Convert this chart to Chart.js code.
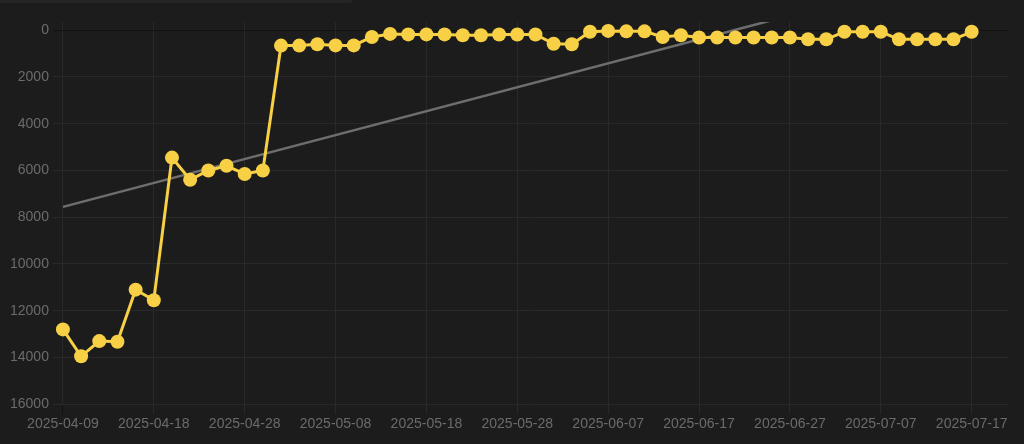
<!DOCTYPE html>
<html>
<head>
<meta charset="utf-8">
<script src="https://cdn.jsdelivr.net/npm/chart.js@4.4.1/dist/chart.umd.min.js"></script>
<style>
  html, body { margin: 0; padding: 0; background: #1c1c1c; }
  #wrap { position: relative; width: 1024px; height: 444px; overflow: hidden; }
  #topbar { position: absolute; left: 0; top: 0; width: 353px; height: 3px; background: #252525; border-bottom-right-radius: 3px; }
  canvas { display: block; }
</style>
</head>
<body>
<div id="wrap">
  <div id="topbar"></div>
  <canvas id="chart" width="1024" height="444"></canvas>
</div>
<script>
// Categories (two trailing dates have no data, they just pad the axis)
const dates = [
    '2025-04-09', '2025-04-10', '2025-04-12', '2025-04-14', '2025-04-16',
    '2025-04-18', '2025-04-20', '2025-04-22', '2025-04-24', '2025-04-26',
    '2025-04-28', '2025-04-30', '2025-05-02', '2025-05-04', '2025-05-06',
    '2025-05-08', '2025-05-10', '2025-05-12', '2025-05-14', '2025-05-16',
    '2025-05-18', '2025-05-20', '2025-05-22', '2025-05-24', '2025-05-26',
    '2025-05-28', '2025-05-30', '2025-06-01', '2025-06-03', '2025-06-05',
    '2025-06-07', '2025-06-09', '2025-06-11', '2025-06-13', '2025-06-15',
    '2025-06-17', '2025-06-19', '2025-06-21', '2025-06-23', '2025-06-25',
    '2025-06-27', '2025-06-29', '2025-07-01', '2025-07-03', '2025-07-05',
    '2025-07-07', '2025-07-09', '2025-07-11', '2025-07-13', '2025-07-15',
    '2025-07-17', '2025-07-19', '2025-07-21'
];

// Main series
const values = [
    12800, 13950, 13300, 13330, 11100,
    11550, 5450, 6400, 6000, 5800,
    6150, 6000, 660, 660, 600,
    650, 650, 290, 160, 180,
    180, 180, 215, 215, 185,
    185, 185, 580, 600, 70,
    30, 50, 50, 290, 215,
    315, 315, 315, 315, 315,
    315, 390, 390, 70, 70,
    70, 390, 390, 390, 390,
    70, null, null
];

// Trend line end points
const trendDates = ['2025-04-09', '2025-07-17'];
const trendValues = [7560, -2675];

// Y axis
const yMin = -350;
const yMax = 16000;
const yTicks = [0, 2000, 4000, 6000, 8000, 10000, 12000, 14000, 16000];

const tickColor = '#6b6b6b';
const gridColor = '#292929';

const trendPoints = trendDates.map((d, i) => ({ x: d, y: trendValues[i] }));

new Chart(document.getElementById('chart'), {
    type: 'line',
    data: {
        labels: dates,
        datasets: [
            {
                label: 'value',
                data: values,
                borderColor: '#f7d046',
                backgroundColor: '#f7d046',
                borderWidth: 3,
                pointRadius: 7,
                pointBorderWidth: 0,
                pointBackgroundColor: '#f7d046',
                tension: 0,
                order: 0
            },
            {
                label: 'trend',
                data: trendPoints,
                borderColor: '#6e6e6e',
                borderWidth: 2.5,
                pointRadius: 0,
                tension: 0,
                clip: 0,
                order: 1
            }
        ]
    },
    options: {
        responsive: false,
        animation: false,
        layout: {
            padding: { top: 22, right: 16, bottom: 9, left: 6 }
        },
        plugins: {
            legend: { display: false },
            tooltip: { enabled: false }
        },
        scales: {
            x: {
                type: 'category',
                offset: false,
                border: { display: false },
                grid: {
                    color: gridColor,
                    tickLength: 10,
                    tickColor: ctx => ctx.index === 0 ? '#121212' : gridColor
                },
                ticks: {
                    autoSkip: false,
                    maxRotation: 0,
                    padding: 2,
                    color: tickColor,
                    font: { family: 'Liberation Sans', size: 14 },
                    callback: function(val, index) {
                        return index % 5 === 0 && index <= 50 ? this.getLabelForValue(val) : null;
                    }
                }
            },
            y: {
                reverse: true,
                min: yMin,
                max: yMax,
                border: { display: false },
                afterBuildTicks: axis => {
                    axis.ticks = yTicks.map(v => ({ value: v }));
                },
                grid: {
                    color: ctx => ctx.tick && ctx.tick.value === 0 ? '#121212' : gridColor,
                    tickLength: 10
                },
                ticks: {
                    padding: 4,
                    color: tickColor,
                    font: { family: 'Liberation Sans', size: 14 },
                    callback: v => String(v)
                }
            }
        }
    }
});
</script>
</body>
</html>
